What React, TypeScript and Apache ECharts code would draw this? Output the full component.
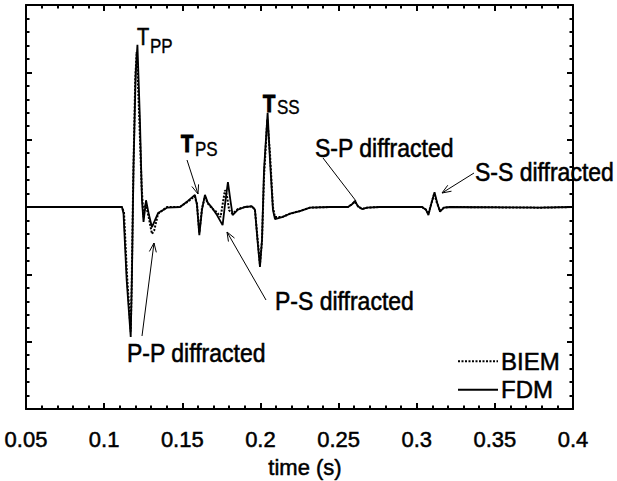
import React, { useEffect, useRef } from "react";
import * as echarts from "echarts";

const FONT = '"Liberation Sans", Arial, Helvetica, sans-serif';

// x-axis range / ticks (time in seconds)
const xMin = 0.05;
const xMax = 0.4;
const xStep = 0.05;
// y-axis range (no labels shown)
const yMin = -3;
const yMax = 3;
const yStep = 1;

// FDM trace (solid)
const fdmTime = [
  0.05, 0.1114, 0.1124, 0.1144, 0.117, 0.1178, 0.1188, 0.1202, 0.1213, 0.1229,
  0.1242, 0.1252, 0.1268, 0.1287, 0.1306, 0.1345, 0.1402, 0.1485, 0.1536, 0.1581,
  0.1594, 0.1609, 0.1626, 0.1645, 0.1664, 0.169, 0.1722, 0.1758, 0.1773, 0.1792,
  0.1808, 0.1822, 0.1856, 0.1901, 0.1946, 0.1965, 0.1981, 0.1997, 0.201, 0.2023,
  0.2046, 0.2061, 0.208, 0.2093, 0.2138, 0.2189, 0.2253, 0.2317, 0.2445, 0.256,
  0.2586, 0.2605, 0.2624, 0.265, 0.2682, 0.2765, 0.3034, 0.3059, 0.3075, 0.3091,
  0.3114, 0.313, 0.3149, 0.3174, 0.3213, 0.3789, 0.4,
];
const fdmAmp = [
  0, 0, -0.1, -1.08, -1.93, -1.0, 0.6, 2.0, 2.41, 1.29,
  0.1, -0.22, 0.1, -0.12, -0.3, -0.09, -0.01, 0, 0.09, 0.18,
  0.03, -0.42, -0.04, 0.18, 0.06, -0.01, -0.12, -0.27, 0.03, 0.37,
  0.1, -0.12, -0.04, 0, 0.01, -0.04, -0.49, -0.89, -0.49, 0.55,
  1.4, 0.7, -0.04, -0.18, -0.15, -0.1, -0.06, -0.01, 0, 0,
  0.04, 0.09, 0.01, -0.03, -0.01, 0, 0, -0.04, -0.12, 0.03,
  0.22, 0.07, -0.07, -0.01, 0, -0.01, 0,
];

// BIEM trace (dotted)
const biemTime = [
  0.05, 0.1114, 0.1127, 0.1146, 0.117, 0.1176, 0.1186, 0.1199, 0.1208, 0.1222,
  0.124, 0.1252, 0.1265, 0.1285, 0.1306, 0.132, 0.1345, 0.1402, 0.1485, 0.1536,
  0.1578, 0.1594, 0.1609, 0.1626, 0.1645, 0.1664, 0.169, 0.1722, 0.1745, 0.1773,
  0.1785, 0.18, 0.1822, 0.1856, 0.1901, 0.1946, 0.1965, 0.1981, 0.1997, 0.201,
  0.2023, 0.2044, 0.2061, 0.208, 0.2093, 0.2138, 0.2189, 0.2253, 0.2317, 0.2445,
  0.256, 0.2586, 0.2605, 0.2624, 0.265, 0.2682, 0.2765, 0.3034, 0.3059, 0.3075,
  0.3091, 0.3112, 0.3128, 0.3149, 0.3174, 0.3213, 0.3789, 0.4,
];
const biemAmp = [
  0, 0, -0.08, -1.0, -1.85, -1.2, 0.4, 1.9, 2.3, 1.5,
  0.3, -0.15, 0.05, -0.15, -0.4, -0.35, -0.1, 0, 0, 0.08,
  0.16, 0.05, -0.38, -0.02, 0.15, 0.05, -0.02, -0.08, -0.15, 0.25,
  0.18, -0.05, -0.1, -0.03, 0, 0.01, -0.04, -0.45, -0.85, -0.5,
  0.45, 1.3, 0.8, 0.0, -0.15, -0.15, -0.1, -0.06, -0.01, 0,
  0, 0.04, 0.08, 0.01, -0.03, -0.01, 0, 0, -0.04, -0.1,
  0.03, 0.2, 0.07, -0.06, -0.01, 0, -0.01, 0,
];

// annotation texts
const diffLabels = [
  { text: "S-P diffracted", x: 315, y: 148 },
  { text: "S-S diffracted", x: 475, y: 172 },
  { text: "P-S diffracted", x: 275, y: 301 },
  { text: "P-P diffracted", x: 127, y: 353 },
];
const phaseLabels = [
  { main: "T", sub: "PP", x: 137, y: 37, subX: 150, subY: 46, bold: false },
  { main: "T", sub: "PS", x: 181, y: 144, subX: 195, subY: 149, bold: true },
  { main: "T", sub: "SS", x: 263, y: 104, subX: 277, subY: 107, bold: true },
];
const arrows = [
  { from: [187, 160], to: [198, 194], head: true },
  { from: [266, 300], to: [227, 232], head: true },
  { from: [142, 336], to: [154, 243], head: true },
  { from: [323, 158], to: [356, 201], head: false },
  { from: [474, 173], to: [442, 193], head: true },
];

function textEl(text: string, x: number, y: number, size: number, weight: string, sy: number, sw: number) {
  return {
    type: "text",
    x,
    y,
    scaleY: sy,
    style: {
      text,
      fontSize: size,
      fontWeight: weight,
      fontFamily: FONT,
      fill: "#000",
      stroke: "#000",
      lineWidth: sw,
      align: "left",
      verticalAlign: "middle",
    },
    z: 10,
  };
}

function buildGraphic() {
  const els: any[] = [];
  diffLabels.forEach((l) => els.push(textEl(l.text, l.x, l.y, 23, "normal", 1.13, 0.5)));
  phaseLabels.forEach((p) => {
    els.push(textEl(p.main, p.x, p.y, 20, p.bold ? "bold" : "normal", 1.2, p.bold ? 1 : 0.5));
    els.push(textEl(p.sub, p.subX, p.subY, 17, "normal", 1.2, 0.3));
  });
  arrows.forEach((a) => {
    els.push({
      type: "line",
      shape: { x1: a.from[0], y1: a.from[1], x2: a.to[0], y2: a.to[1] },
      style: { stroke: "#000", lineWidth: 1 },
      z: 10,
    });
    if (a.head) {
      const dx = a.to[0] - a.from[0];
      const dy = a.to[1] - a.from[1];
      const len = Math.sqrt(dx * dx + dy * dy);
      const ux = dx / len;
      const uy = dy / len;
      const L = 9;
      const W = 3.5;
      const bx = a.to[0] - ux * L;
      const by = a.to[1] - uy * L;
      els.push({
        type: "polyline",
        shape: {
          points: [
            [bx - uy * W, by + ux * W],
            [a.to[0], a.to[1]],
            [bx + uy * W, by - ux * W],
          ],
        },
        style: { stroke: "#000", lineWidth: 1, fill: null },
        z: 10,
      });
    }
  });
  return els;
}

const axisLineStyle = { color: "#000", width: 2 };
const tickCommon = {
  axisLine: { show: true, onZero: false, lineStyle: axisLineStyle },
  axisTick: { show: true, inside: true, length: 6, lineStyle: { color: "#000", width: 2 } },
  minorTick: { show: true, splitNumber: 5, length: 3.5, lineStyle: { color: "#000", width: 2 } },
  splitLine: { show: false },
  minorSplitLine: { show: false },
};

export default function App() {
  const ref = useRef<HTMLDivElement>(null);
  useEffect(() => {
    const chart = echarts.init(ref.current!, null, { renderer: "svg" });
    const option: any = {
      animation: false,
      backgroundColor: "#fff",
      grid: {
        left: 26,
        right: 44,
        top: 5,
        bottom: 72,
        containLabel: false,
        outerBoundsMode: "none",
      },
      xAxis: [
        {
          type: "value",
          min: xMin,
          max: xMax,
          interval: xStep,
          position: "bottom",
          ...tickCommon,
          axisLabel: {
            show: true,
            margin: 19,
            color: "#000",
            fontSize: 22,
            fontFamily: FONT,
            textBorderColor: "#000",
            textBorderWidth: 0.5,
            formatter: (v: number) => String(parseFloat(v.toFixed(3))),
          },
          name: "time (s)",
          nameLocation: "middle",
          nameGap: 47,
          nameTextStyle: {
            color: "#000",
            fontSize: 22,
            fontFamily: FONT,
            textBorderColor: "#000",
            textBorderWidth: 0.5,
            padding: [0, 0, 0, 11],
          },
        },
        {
          type: "value",
          min: xMin,
          max: xMax,
          interval: xStep,
          position: "top",
          ...tickCommon,
          axisLabel: { show: false },
        },
      ],
      yAxis: [
        {
          type: "value",
          min: yMin,
          max: yMax,
          interval: yStep,
          position: "left",
          ...tickCommon,
          axisLabel: { show: false },
        },
        {
          type: "value",
          min: yMin,
          max: yMax,
          interval: yStep,
          position: "right",
          ...tickCommon,
          axisLabel: { show: false },
        },
      ],
      legend: {
        orient: "vertical",
        left: 452,
        top: 344,
        itemWidth: 40,
        itemHeight: 12,
        itemGap: 4,
        itemStyle: { opacity: 0, borderWidth: 0 },
        data: ["BIEM", "FDM"],
        textStyle: {
          color: "#000",
          fontSize: 24,
          fontFamily: FONT,
          lineHeight: 22,
          textBorderColor: "#000",
          textBorderWidth: 0.5,
          padding: [0, 0, 0, -2],
        },
      },
      series: [
        {
          name: "FDM",
          type: "line",
          xAxisIndex: 0,
          yAxisIndex: 0,
          symbol: "none",
          lineStyle: { color: "#000", width: 1.8, type: "solid" },
          itemStyle: { color: "#000" },
          data: fdmTime.map((t, i) => [t, fdmAmp[i]]),
          z: 2,
        },
        {
          name: "BIEM",
          type: "line",
          xAxisIndex: 0,
          yAxisIndex: 0,
          symbol: "none",
          lineStyle: { color: "#000", width: 2, type: [2, 1.5] },
          itemStyle: { color: "#000" },
          data: biemTime.map((t, i) => [t, biemAmp[i]]),
          z: 3,
        },
      ],
      graphic: buildGraphic(),
    };
    chart.setOption(option);
    return () => chart.dispose();
  }, []);
  return (
    <div
      ref={ref}
      style={{ width: 617, height: 481, position: "fixed", left: 0, top: 0, background: "#fff" }}
    />
  );
}
